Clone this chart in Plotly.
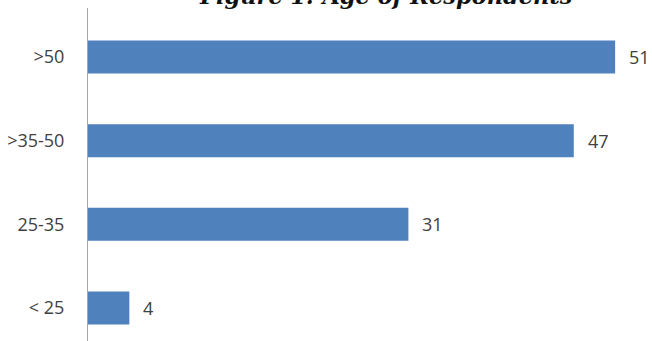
import plotly.graph_objects as go

# Age groups, bottom to top as drawn on the category axis
categories = ["< 25", "25-35", ">35-50", ">50"]
respondents = [4, 31, 47, 51]

bar_color = "#4F81BD"
text_color = "#404040"
label_font = "Open Sans, Liberation Sans, sans-serif"

fig = go.Figure()
fig.add_trace(go.Bar(
    x=respondents,
    y=categories,
    orientation="h",
    marker=dict(color=bar_color, line=dict(width=0)),
    hoverinfo="skip",
))

# value labels to the right of each bar
for cat, val in zip(categories, respondents):
    fig.add_annotation(
        x=val, y=cat, xref="x", yref="y",
        text=str(val), showarrow=False,
        xanchor="left", yanchor="middle", xshift=12,
        font=dict(family=label_font, size=18, color=text_color),
    )

# chart title, sitting just above the plot area
fig.add_annotation(
    x=0.538, xref="paper", y=1, yref="paper",
    text="<b><i>Figure 1: Age of Respondents</i></b>", showarrow=False,
    xanchor="center", yanchor="middle", yshift=12,
    font=dict(family="DejaVu Serif, serif", size=22.5, color="#111111"),
)

fig.update_layout(
    width=652, height=341,
    margin=dict(l=88, r=10, t=8, b=0),
    paper_bgcolor="white", plot_bgcolor="white",
    bargap=0.605,
    showlegend=False,
    xaxis=dict(range=[0, 53.6], visible=False, fixedrange=True),
    yaxis=dict(
        type="category",
        categoryorder="array", categoryarray=categories,
        range=[-0.395, 3.587],
        showline=True, linecolor="#A6A6A6", linewidth=1,
        showgrid=False, zeroline=False, ticks="",
        ticklabelstandoff=19,
        tickfont=dict(family=label_font, size=18, color=text_color),
    ),
)

fig.write_html("out.html")
